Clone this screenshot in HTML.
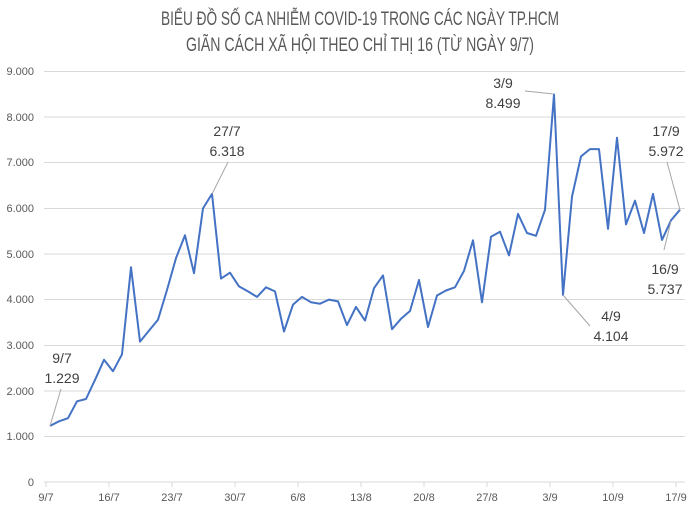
<!DOCTYPE html>
<html><head><meta charset="utf-8"><style>body{margin:0;background:#fff}svg{display:block}text{font-family:"Liberation Sans",sans-serif}</style></head><body>
<svg width="696" height="513" viewBox="0 0 696 513" xmlns="http://www.w3.org/2000/svg">
<rect width="696" height="513" fill="#fff"/>
<text x="360" y="25" font-size="19" fill="#595959" text-anchor="middle" textLength="398" lengthAdjust="spacingAndGlyphs">BIỂU ĐỒ SỐ CA NHIỄM COVID-19 TRONG CÁC NGÀY TP.HCM</text>
<text x="360" y="51" font-size="19" fill="#595959" text-anchor="middle" textLength="348" lengthAdjust="spacingAndGlyphs">GIÃN CÁCH XÃ HỘI THEO CHỈ THỊ 16 (TỪ NGÀY 9/7)</text>
<g stroke="#d9d9d9" stroke-width="1">
<line x1="44" x2="685" y1="71.5" y2="71.5"/><line x1="44" x2="685" y1="117" y2="117"/><line x1="44" x2="685" y1="162.5" y2="162.5"/><line x1="44" x2="685" y1="208.5" y2="208.5"/><line x1="44" x2="685" y1="254" y2="254"/><line x1="44" x2="685" y1="299.5" y2="299.5"/><line x1="44" x2="685" y1="345.5" y2="345.5"/><line x1="44" x2="685" y1="391" y2="391"/><line x1="44" x2="685" y1="436.5" y2="436.5"/><line x1="44" x2="685" y1="482" y2="482"/>
<line x1="46" x2="46" y1="482" y2="487"/><line x1="109" x2="109" y1="482" y2="487"/><line x1="172" x2="172" y1="482" y2="487"/><line x1="235" x2="235" y1="482" y2="487"/><line x1="298" x2="298" y1="482" y2="487"/><line x1="361" x2="361" y1="482" y2="487"/><line x1="424" x2="424" y1="482" y2="487"/><line x1="487" x2="487" y1="482" y2="487"/><line x1="550" x2="550" y1="482" y2="487"/><line x1="613" x2="613" y1="482" y2="487"/><line x1="676" x2="676" y1="482" y2="487"/>
</g>
<g font-size="11" fill="#595959" text-anchor="end">
<text x="34" y="75">9.000</text><text x="34" y="121">8.000</text><text x="34" y="166">7.000</text><text x="34" y="212">6.000</text><text x="34" y="258">5.000</text><text x="34" y="303">4.000</text><text x="34" y="349">3.000</text><text x="34" y="395">2.000</text><text x="34" y="440">1.000</text><text x="34" y="486">0</text>
</g>
<g font-size="11" fill="#595959" text-anchor="middle">
<text x="46" y="501">9/7</text><text x="109" y="501">16/7</text><text x="172" y="501">23/7</text><text x="235" y="501">30/7</text><text x="298" y="501">6/8</text><text x="361" y="501">13/8</text><text x="424" y="501">20/8</text><text x="487" y="501">27/8</text><text x="550" y="501">3/9</text><text x="613" y="501">10/9</text><text x="676" y="501">17/9</text>
</g>
<polyline fill="none" stroke="#4472c4" stroke-width="2" stroke-linejoin="round" points="50,425.9 59,421.3 68,418.2 77,401.3 86,399 95,379.9 104,359.8 113,371.2 122,354.3 131,267.2 140,341.6 149,330.6 158,319.7 167,290 176,258.1 185,235.3 194,273.2 203,208.4 212,193.9 221,278.6 230,272.7 239,286.4 248,291.4 257,296.9 266,287.3 275,291.4 284,331.5 293,304.6 302,296.9 311,302.3 320,303.7 329,299.6 338,301.4 347,325.1 356,306.9 365,320.6 374,288.2 383,275.4 392,329.2 401,318.8 410,311 419,280 428,327 437,295.5 446,290.5 455,287.3 464,270.9 473,240.3 482,302.3 491,236.7 500,231.7 509,255.4 518,213.9 527,233 536,235.8 545,209.8 554,94.5 563,294.9 572,196.6 581,156.4 590,149.1 599,149.1 608,228.9 617,137.7 626,224.4 635,200.7 644,233 653,193.9 662,239.9 671,220.4 680,209.7"/>
<g stroke="#a6a6a6" stroke-width="1" fill="none">
<polyline points="50,426 61,389"/>
<polyline points="212,194 228,162"/>
<polyline points="554,94 525,91"/>
<polyline points="563,295 590,326"/>
<polyline points="671,221 664,250"/>
<polyline points="680,210 667,162"/>
</g>
<g font-size="14" fill="#404040" text-anchor="middle">
<text x="62" y="363">9/7</text><text x="62" y="383">1.229</text>
<text x="227" y="136">27/7</text><text x="227" y="156">6.318</text>
<text x="503" y="88">3/9</text><text x="503" y="108">8.499</text>
<text x="611" y="321">4/9</text><text x="611" y="341">4.104</text>
<text x="665" y="274">16/9</text><text x="665" y="294">5.737</text>
<text x="666" y="136">17/9</text><text x="666" y="156">5.972</text>
</g>
</svg>
</body></html>
